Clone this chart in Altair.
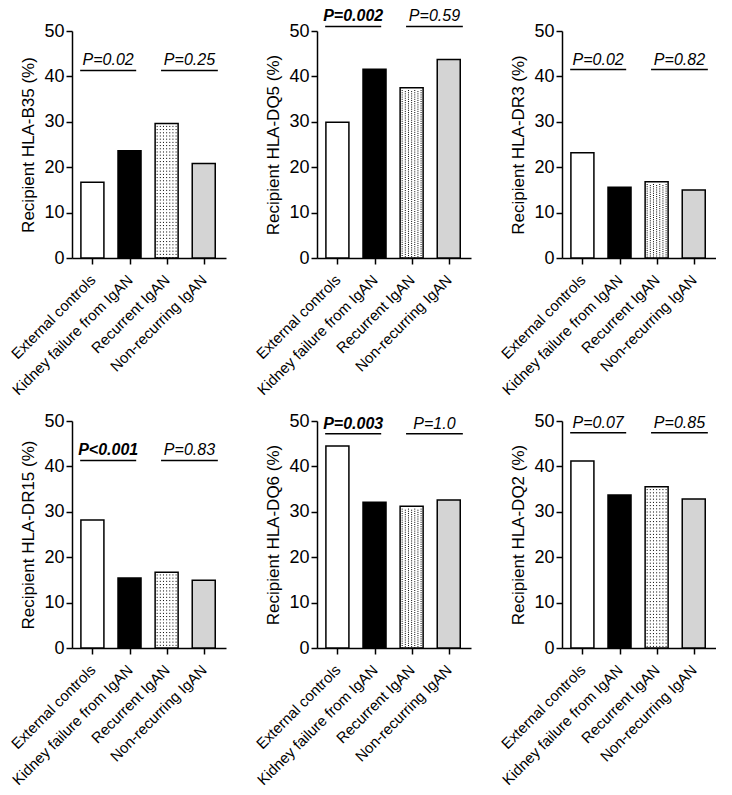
import json
import altair as alt
import pandas as pd

groups = ["External controls", "Kidney failure from IgAN", "Recurrent IgAN", "Non-recurring IgAN"]
fills = ["#ffffff", "#000000", "#ffffff", "#d4d4d4"]

alleles = ["HLA-B35", "HLA-DQ5", "HLA-DR3", "HLA-DR15", "HLA-DQ6", "HLA-DQ2"]
b35 = [16.7, 23.6, 29.6, 20.8]
dq5 = [29.9, 41.6, 37.5, 43.7]
dr3 = [23.2, 15.6, 16.8, 15.0]
dr15 = [28.2, 15.4, 16.7, 14.9]
dq6 = [44.5, 32.1, 31.2, 32.6]
dq2 = [41.2, 33.7, 35.5, 32.8]
series = [b35, dq5, dr3, dr15, dq6, dq2]

p_first = ["P=0.02", "P=0.002", "P=0.02", "P<0.001", "P=0.003", "P=0.07"]
p_second = ["P=0.25", "P=0.59", "P=0.82", "P=0.83", "P=1.0", "P=0.85"]
p_first_bold = [False, True, False, True, True, False]
p_level = [41.3, 51.0, 41.5, 41.3, 47.2, 47.4]
dense_dots = [False, True, True, False, True, False]

FONT = "Liberation Sans"
W, H = 154, 227
XDOM = [-0.55, 3.6]
label_expr = json.dumps(groups) + "[datum.value]"
XSCALE = alt.Scale(domain=XDOM, nice=False, zero=False)
YSCALE = alt.Scale(domain=[0, 50], nice=False)

XAXIS = alt.Axis(values=[0, 1, 2, 3], labelExpr=label_expr, title=None,
                 labelAngle=-45, labelAlign="right", labelBaseline="middle",
                 labelFont=FONT, labelFontSize=15, labelColor="black",
                 labelOverlap=False, labelFlush=False, labelBound=False,
                 labelPadding=13, tickSize=6, tickWidth=1.5, tickColor="black",
                 domainColor="black", domainWidth=1.5, grid=False)


def xq(field):
    return alt.X(field, type="quantitative", scale=XSCALE)


def yq(field):
    return alt.Y(field, type="quantitative", scale=YSCALE)


def panel(i):
    allele = alleles[i]
    df = pd.DataFrame({"idx": list(range(4)), "group": groups, "value": series[i]})
    yaxis = alt.Axis(values=[0, 10, 20, 30, 40, 50], title=f"Recipient {allele} (%)",
                     titleFont=FONT, titleFontSize=17, titleFontWeight="normal",
                     titleColor="black", titlePadding=6,
                     labelFont=FONT, labelFontSize=18, labelColor="black",
                     labelOverlap=False, labelFlush=False,
                     labelPadding=2, tickSize=6, tickWidth=1.5, tickColor="black",
                     domainColor="black", domainWidth=1.5, grid=False)

    bars = alt.Chart(df).transform_calculate(
        xa="datum.idx - 0.31", xb="datum.idx + 0.31"
    ).mark_rect(stroke="black", strokeWidth=1.5).encode(
        x=alt.X("xa:Q", scale=XSCALE, axis=XAXIS), x2="xb:Q",
        y=alt.Y("value:Q", scale=YSCALE, axis=yaxis), y2=alt.datum(0),
        fill=alt.Fill("group:N", scale=alt.Scale(domain=groups, range=fills), legend=None),
    )

    step = 0.085
    layers = [bars]
    if dense_dots[i]:
        seqs = [("sequence(-0.255, 0.27, %f)" % (2 * step), 0.0),
                ("sequence(-0.17, 0.27, %f)" % (2 * step), 1.1)]
        dash = [1, 1.2]
    else:
        seqs = [("sequence(-0.255, 0.27, %f)" % step, 0.0)]
        dash = [1, 2.2]
    for seq, off in seqs:
        dots = alt.Chart(df).transform_filter("datum.idx == 2").transform_calculate(
            offs=seq
        ).transform_flatten(["offs"]).transform_calculate(
            xd="datum.idx + datum.offs", ytop="datum.value - 0.5"
        ).mark_rule(color="black", strokeWidth=1, strokeDash=dash, strokeDashOffset=off).encode(
            x=xq("xd"), y=yq("ytop"), y2=alt.datum(0)
        )
        layers.append(dots)

    ann = pd.DataFrame({
        "xs": [-0.33, 1.85], "xe": [1.18, 3.38],
        "lvl": [p_level[i], p_level[i]],
        "label": [p_first[i], p_second[i]],
    })
    lines = alt.Chart(ann).mark_rule(color="black", strokeWidth=1.5).encode(
        x=xq("xs"), x2="xe:Q", y=yq("lvl")
    )
    layers.append(lines)

    for k, bold in enumerate([p_first_bold[i], False]):
        t = alt.Chart(ann.iloc[[k]]).transform_calculate(
            xc="(datum.xs + datum.xe) / 2"
        ).mark_text(font=FONT, fontSize=16, fontStyle="italic",
                    fontWeight="bold" if bold else "normal", color="black",
                    baseline="alphabetic", align="center", dy=-5).encode(
            x=xq("xc"), y=yq("lvl"), text="label:N"
        )
        layers.append(t)

    return alt.layer(*layers).properties(width=W, height=H)


row1 = alt.hconcat(panel(0), panel(1), panel(2), spacing=27)
row2 = alt.hconcat(panel(3), panel(4), panel(5), spacing=27)
chart = alt.vconcat(row1, row2, spacing=14).properties(padding=0).configure_view(stroke=None)

chart.save("out.html", embed_options={"renderer": "svg", "actions": False})
